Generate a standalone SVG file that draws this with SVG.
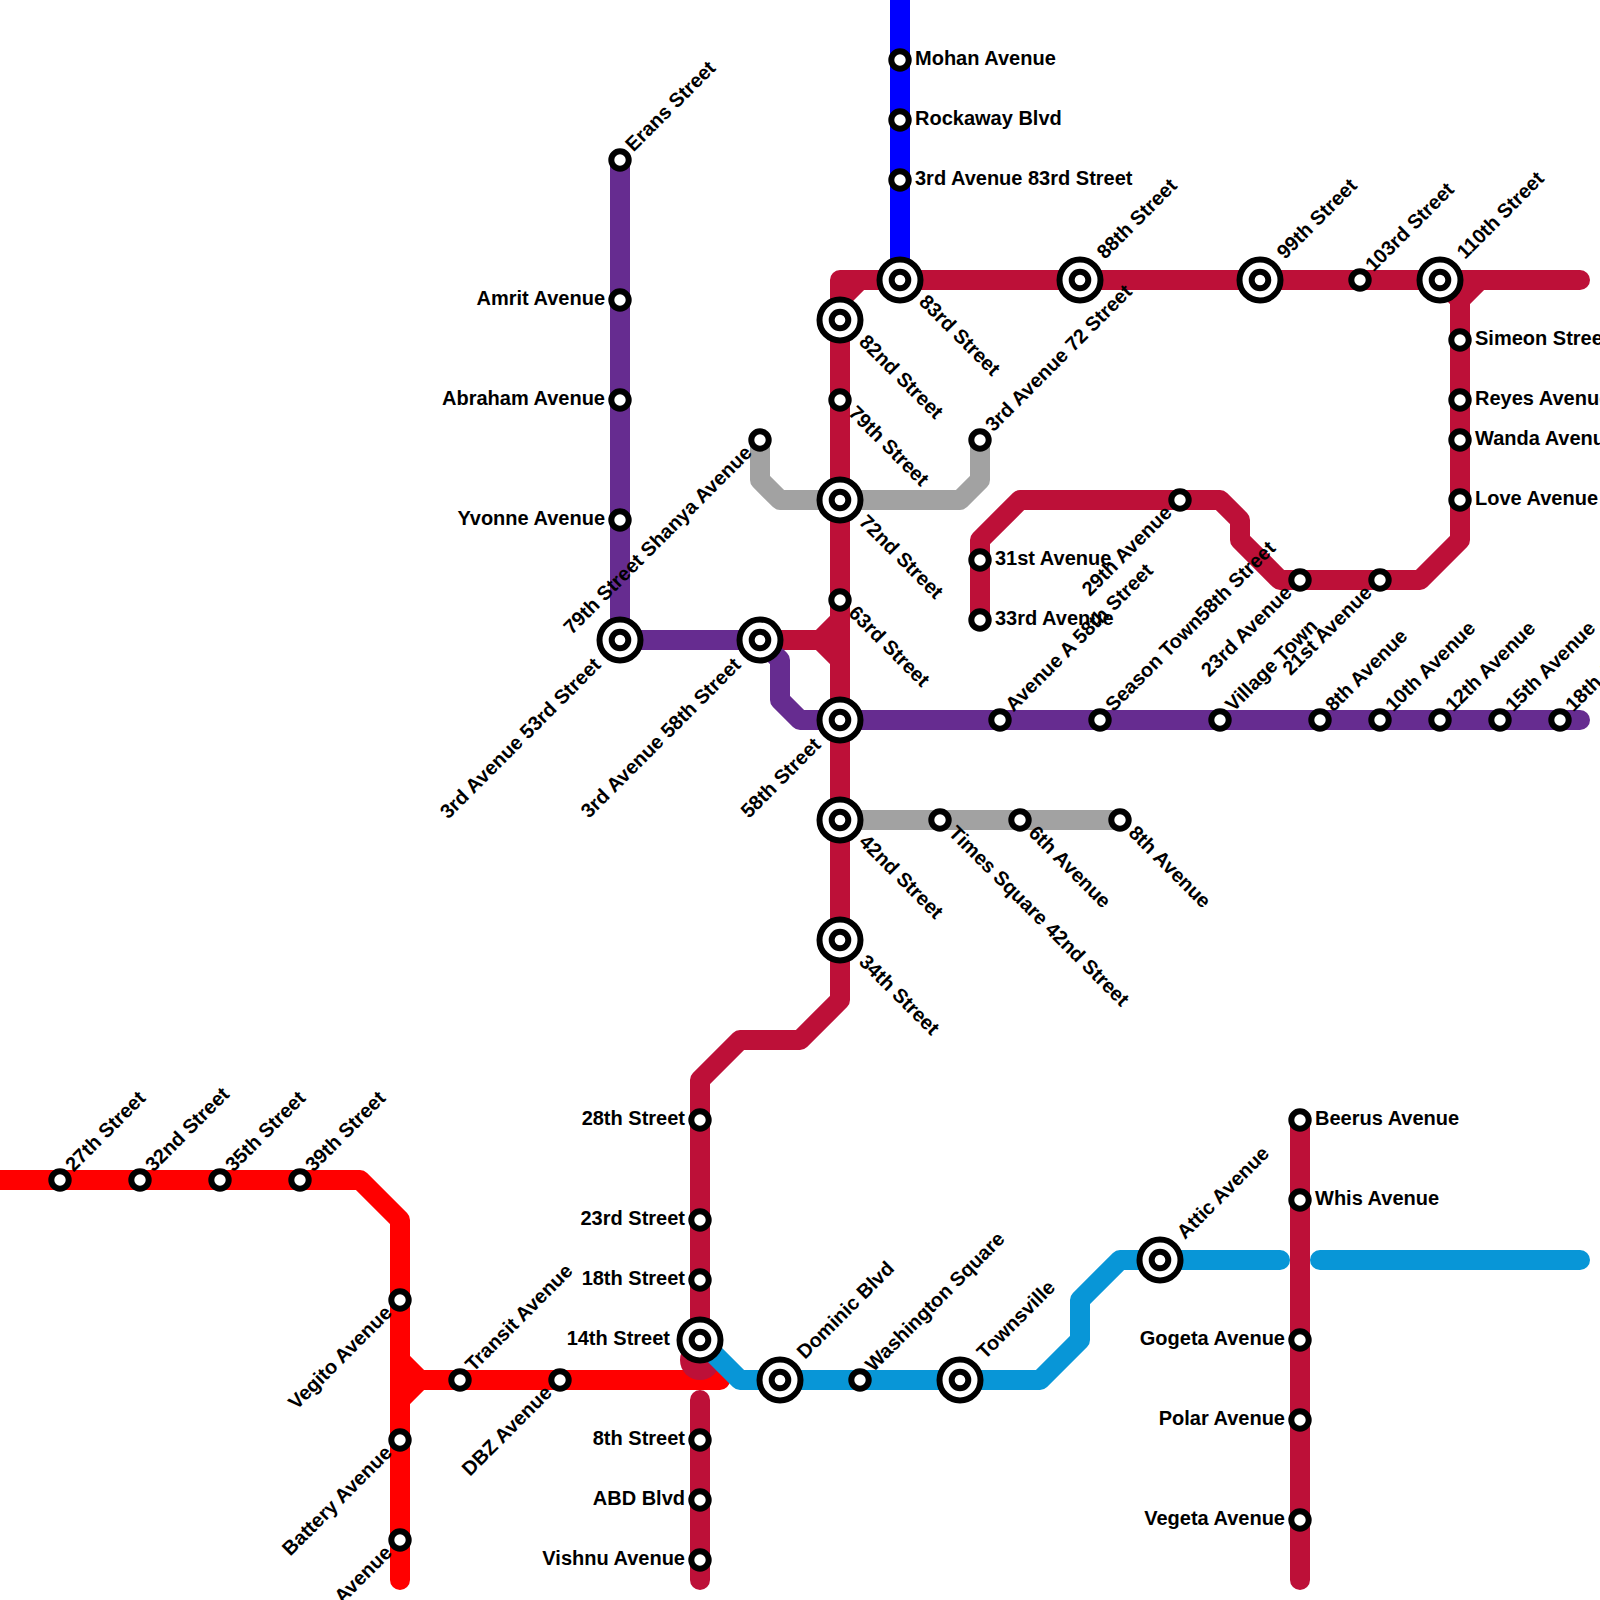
<svg xmlns="http://www.w3.org/2000/svg" width="1600" height="1600" viewBox="0 0 1600 1600">
<style>
.l{fill:none;stroke-width:20;stroke-linecap:round;stroke-linejoin:round}
.red{stroke:#FF0000}.cr{stroke:#BD1038}.pu{stroke:#662C90}.gr{stroke:#A2A2A2}.cy{stroke:#0896D7}.bl{stroke:#0000FF}
.s{fill:#fff;stroke:#000;stroke-width:6}
.o{fill:#fff;stroke:#000;stroke-width:6}
text{font-family:"Liberation Sans",Arial,sans-serif;font-size:20px;font-weight:700;fill:#000}
.e{text-anchor:end}
</style>
<defs>
<circle id="st" r="8.7" class="s"/>
<g id="ix"><circle r="20.5" class="o"/><circle r="8.3" class="s"/></g>
</defs>
<rect width="1600" height="1600" fill="#fff"/>
<g id="connectors">
<path class="l red" d="M-20 1180H360L400 1220V1580M400 1360L420 1380H720M420 1380L400 1400"/>
<path class="l cr" d="M700 1400V1580M700 1360V1080L740 1040H800L840 1000V280H1580M840 300L860 280M820 640L840 620M820 640L840 660M760 640H820M1440 280L1460 300M1480 280L1460 300V540L1420 580H1280L1240 540V520L1220 500H1020L980 540V620M1300 1120V1580"/>
<circle cx="700" cy="1360" r="20" fill="#BD1038"/>
<path class="l gr" d="M760 440V480L780 500H960L980 480V440M840 820H1120"/>
<path class="l pu" d="M620 160V640H760L780 660V700L800 720H1580"/>
<path class="l cy" d="M700 1340L740 1380H1040L1080 1340V1300L1120 1260H1280M1320 1260H1580"/>
<path class="l bl" d="M900 -20V280"/>
</g>
<g id="n1"><use href="#st" x="60" y="1180"/><text transform="translate(73.5 1172.5) rotate(-45)">27th Street</text></g>
<g id="n2"><use href="#st" x="140" y="1180"/><text transform="translate(153.5 1172.5) rotate(-45)">32nd Street</text></g>
<g id="n3"><use href="#st" x="220" y="1180"/><text transform="translate(233.5 1172.5) rotate(-45)">35th Street</text></g>
<g id="n4"><use href="#st" x="300" y="1180"/><text transform="translate(313.5 1172.5) rotate(-45)">39th Street</text></g>
<g id="n5"><use href="#st" x="400" y="1300"/><text class="e" transform="translate(393 1314) rotate(-45)">Vegito Avenue</text></g>
<g id="n6"><use href="#st" x="400" y="1440"/><text class="e" transform="translate(393 1454) rotate(-45)">Battery Avenue</text></g>
<g id="n7"><use href="#st" x="400" y="1540"/><text class="e" transform="translate(393 1554) rotate(-45)">Avenue</text></g>
<g id="n8"><use href="#st" x="460" y="1380"/><text transform="translate(473.5 1372.5) rotate(-45)">Transit Avenue</text></g>
<g id="n9"><use href="#st" x="560" y="1380"/><text class="e" transform="translate(553 1394) rotate(-45)">DBZ Avenue</text></g>
<g id="n10"><use href="#st" x="700" y="1120"/><text class="e" x="685" y="1125">28th Street</text></g>
<g id="n11"><use href="#st" x="700" y="1220"/><text class="e" x="685" y="1225">23rd Street</text></g>
<g id="n12"><use href="#st" x="700" y="1280"/><text class="e" x="685" y="1285">18th Street</text></g>
<g id="n13"><use href="#ix" x="700" y="1340"/><text class="e" x="670" y="1345">14th Street</text></g>
<g id="n14"><use href="#st" x="700" y="1440"/><text class="e" x="685" y="1445">8th Street</text></g>
<g id="n15"><use href="#st" x="700" y="1500"/><text class="e" x="685" y="1505">ABD Blvd</text></g>
<g id="n16"><use href="#st" x="700" y="1560"/><text class="e" x="685" y="1565">Vishnu Avenue</text></g>
<g id="n17"><use href="#ix" x="780" y="1380"/><text transform="translate(805 1360) rotate(-45)">Dominic Blvd</text></g>
<g id="n18"><use href="#st" x="860" y="1380"/><text transform="translate(873.5 1372.5) rotate(-45)">Washington Square</text></g>
<g id="n19"><use href="#ix" x="960" y="1380"/><text transform="translate(985 1360) rotate(-45)">Townsville</text></g>
<g id="n20"><use href="#ix" x="1160" y="1260"/><text transform="translate(1185 1240) rotate(-45)">Attic Avenue</text></g>
<g id="n21"><use href="#st" x="1300" y="1120"/><text x="1315" y="1125">Beerus Avenue</text></g>
<g id="n22"><use href="#st" x="1300" y="1200"/><text x="1315" y="1205">Whis Avenue</text></g>
<g id="n23"><use href="#st" x="1300" y="1340"/><text class="e" x="1285" y="1345">Gogeta Avenue</text></g>
<g id="n24"><use href="#st" x="1300" y="1420"/><text class="e" x="1285" y="1425">Polar Avenue</text></g>
<g id="n25"><use href="#st" x="1300" y="1520"/><text class="e" x="1285" y="1525">Vegeta Avenue</text></g>
<g id="n26"><use href="#st" x="620" y="160"/><text transform="translate(633.5 152.5) rotate(-45)">Erans Street</text></g>
<g id="n27"><use href="#st" x="620" y="300"/><text class="e" x="605" y="305">Amrit Avenue</text></g>
<g id="n28"><use href="#st" x="620" y="400"/><text class="e" x="605" y="405">Abraham Avenue</text></g>
<g id="n29"><use href="#st" x="620" y="520"/><text class="e" x="605" y="525">Yvonne Avenue</text></g>
<g id="n30"><use href="#ix" x="620" y="640"/><text class="e" transform="translate(602 666) rotate(-45)">3rd Avenue 53rd Street</text></g>
<g id="n31"><use href="#ix" x="760" y="640"/><text class="e" transform="translate(742 666) rotate(-45)">3rd Avenue 58th Street</text></g>
<g id="n32"><use href="#st" x="760" y="440"/><text class="e" transform="translate(753 454) rotate(-45)">79th Street Shanya Avenue</text></g>
<g id="n33"><use href="#st" x="980" y="440"/><text transform="translate(993.5 432.5) rotate(-45)">3rd Avenue 72 Street</text></g>
<g id="n34"><use href="#ix" x="840" y="320"/><text transform="translate(858 343) rotate(45)">82nd Street</text></g>
<g id="n35"><use href="#st" x="840" y="400"/><text transform="translate(847.5 414) rotate(45)">79th Street</text></g>
<g id="n36"><use href="#ix" x="840" y="500"/><text transform="translate(858 523) rotate(45)">72nd Street</text></g>
<g id="n37"><use href="#st" x="840" y="600"/><text transform="translate(847.5 614) rotate(45)">63rd Street</text></g>
<g id="n38"><use href="#ix" x="840" y="720"/><text class="e" transform="translate(822 746) rotate(-45)">58th Street</text></g>
<g id="n39"><use href="#ix" x="840" y="820"/><text transform="translate(858 843) rotate(45)">42nd Street</text></g>
<g id="n40"><use href="#ix" x="840" y="940"/><text transform="translate(858 963) rotate(45)">34th Street</text></g>
<g id="n41"><use href="#st" x="940" y="820"/><text transform="translate(947.5 834) rotate(45)">Times Square 42nd Street</text></g>
<g id="n42"><use href="#st" x="1020" y="820"/><text transform="translate(1027.5 834) rotate(45)">6th Avenue</text></g>
<g id="n43"><use href="#st" x="1120" y="820"/><text transform="translate(1127.5 834) rotate(45)">8th Avenue</text></g>
<g id="n44"><use href="#st" x="900" y="60"/><text x="915" y="65">Mohan Avenue</text></g>
<g id="n45"><use href="#st" x="900" y="120"/><text x="915" y="125">Rockaway Blvd</text></g>
<g id="n46"><use href="#st" x="900" y="180"/><text x="915" y="185">3rd Avenue 83rd Street</text></g>
<g id="n47"><use href="#ix" x="900" y="280"/><text transform="translate(918 303) rotate(45)">83rd Street</text></g>
<g id="n48"><use href="#ix" x="1080" y="280"/><text transform="translate(1105 260) rotate(-45)">88th Street</text></g>
<g id="n49"><use href="#ix" x="1260" y="280"/><text transform="translate(1285 260) rotate(-45)">99th Street</text></g>
<g id="n50"><use href="#st" x="1360" y="280"/><text transform="translate(1373.5 272.5) rotate(-45)">103rd Street</text></g>
<g id="n51"><use href="#ix" x="1440" y="280"/><text transform="translate(1465 260) rotate(-45)">110th Street</text></g>
<g id="n52"><use href="#st" x="1460" y="340"/><text x="1475" y="345">Simeon Street</text></g>
<g id="n53"><use href="#st" x="1460" y="400"/><text x="1475" y="405">Reyes Avenue</text></g>
<g id="n54"><use href="#st" x="1460" y="440"/><text x="1475" y="445">Wanda Avenue</text></g>
<g id="n55"><use href="#st" x="1460" y="500"/><text x="1475" y="505">Love Avenue</text></g>
<g id="n56"><use href="#st" x="1380" y="580"/><text class="e" transform="translate(1373 594) rotate(-45)">21st Avenue</text></g>
<g id="n57"><use href="#st" x="1300" y="580"/><text class="e" transform="translate(1293 594) rotate(-45)">23rd Avenue</text></g>
<g id="n58"><use href="#st" x="1180" y="500"/><text class="e" transform="translate(1173 514) rotate(-45)">29th Avenue</text></g>
<g id="n59"><use href="#st" x="980" y="560"/><text x="995" y="565">31st Avenue</text></g>
<g id="n60"><use href="#st" x="980" y="620"/><text x="995" y="625">33rd Avenue</text></g>
<g id="n61"><use href="#st" x="1000" y="720"/><text transform="translate(1013.5 712.5) rotate(-45)">Avenue A 58th Street</text></g>
<g id="n62"><use href="#st" x="1100" y="720"/><text transform="translate(1113.5 712.5) rotate(-45)">Season Town58th Street</text></g>
<g id="n63"><use href="#st" x="1220" y="720"/><text transform="translate(1233.5 712.5) rotate(-45)">Village Town</text></g>
<g id="n64"><use href="#st" x="1320" y="720"/><text transform="translate(1333.5 712.5) rotate(-45)">8th Avenue</text></g>
<g id="n65"><use href="#st" x="1380" y="720"/><text transform="translate(1393.5 712.5) rotate(-45)">10th Avenue</text></g>
<g id="n66"><use href="#st" x="1440" y="720"/><text transform="translate(1453.5 712.5) rotate(-45)">12th Avenue</text></g>
<g id="n67"><use href="#st" x="1500" y="720"/><text transform="translate(1513.5 712.5) rotate(-45)">15th Avenue</text></g>
<g id="n68"><use href="#st" x="1560" y="720"/><text transform="translate(1573.5 712.5) rotate(-45)">18th Avenue</text></g>
</svg>
